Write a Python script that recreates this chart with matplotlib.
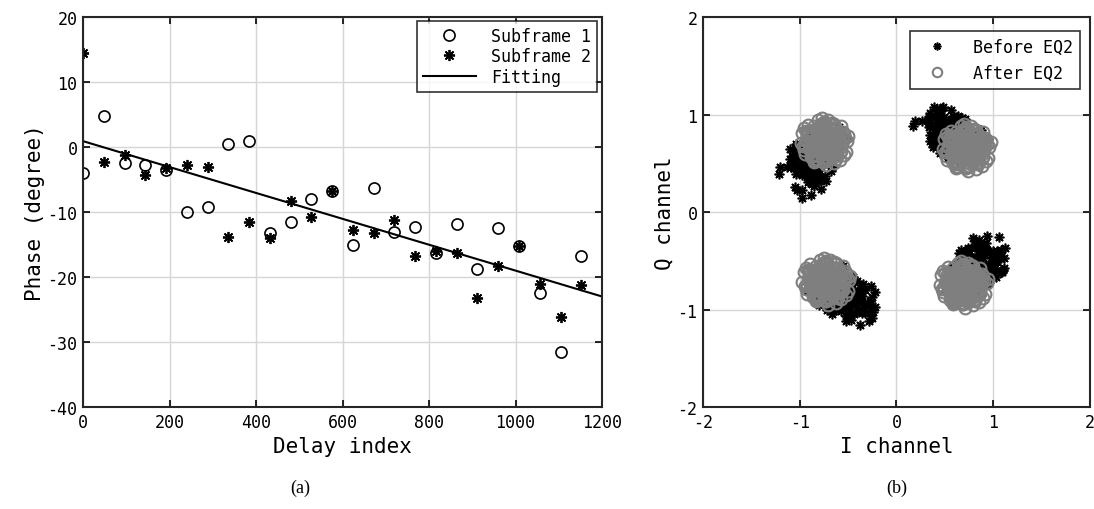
import numpy as np
import matplotlib
matplotlib.use("Agg")
import matplotlib.pyplot as plt

# ---- panel (a): phase vs delay index ----
delay_idx = [0, 48, 96, 144, 192, 240, 288, 336, 384, 432, 480, 528, 576,
             624, 672, 720, 768, 816, 864, 912, 960, 1008, 1056, 1104, 1152]
phase_sub1 = [-4.0, 4.7, -2.5, -2.8, -3.5, -10.0, -9.3, 0.5, 1.0, -13.2, -11.5, -8.0, -6.8,
              -15.0, -6.3, -13.0, -12.3, -16.3, -11.8, -18.7, -12.5, -15.2, -22.5, -31.5, -16.8]
phase_sub2 = [14.5, -2.3, -1.2, -4.3, -3.3, -2.8, -3.0, -13.8, -11.5, -14.0, -8.3, -10.7, -6.8,
              -12.7, -13.2, -11.3, -16.8, -16.0, -16.3, -23.2, -18.3, -15.2, -21.0, -26.2, -21.3]
fit_x = [0, 1200]
fit_y = [0.9, -23.0]

# ---- panel (b): QPSK constellation ----
qpsk_i = [0.72, -0.75, -0.73, 0.69]
qpsk_q = [0.66, 0.72, -0.71, -0.74]
# per-sample noise offsets (units of NOISE_UNIT), shared by every symbol cluster
noise_dx = [0, 5, -4, -7, 3, 10, -10, 2, -3, 12, -12, 8, -8, 14, -15, 6, -6, 16, 1, -1,
            17, -16, 11, -12, 19, -19, 4, -5, 9, -9, 20, -20, 15, -14, 14, -17, 21, -21, 2, -2,
            7, -7, 7, -5, 11, -11, 4, -2, 13, -13, 9, -9, 18, -18, 22, -3, 3, -6, 1, 6,
            2, -2, 6, -6, 9, -9, 4, -4, 12, -12, 0, 0, 7, -7, 10, -10, 3, -3, 13, -13,
            5, -5, 8, -8, 1, -1, 11, -11, 6, -6, 15, -15, 3, -3, 9, -9, 0, 12, -12, 4,
            0, 3, -3, 6, -6, 9, -9, 12, -12, 15, -15, 1, -1, 4, -4, 8, -8, 11, -11, 14,
            -14, 17, -17, 2, -2, 5, -5, 10, -10, 13, -13, 16, -16, 7, -7, 0, 18, -18, 0, 6]
noise_dy = [0, 3, 6, -2, -8, 1, 5, 12, -12, -6, -7, 10, 11, 7, 1, -14, -15, -2, 17, -18,
            9, 10, -15, -14, 3, -4, 19, 19, -19, -18, -9, 8, 14, 15, -16, -11, 1, -1, -21, 21,
            7, -7, -4, 9, 6, -3, -11, 13, -2, 3, 16, -17, -12, 12, 5, 4, -3, 1, 8, -8,
            -5, 5, -1, 1, 3, -3, 9, -9, 4, -4, 10, -10, -11, 11, -7, 7, -14, 14, 0, 0,
            13, -13, -2, 2, -6, 6, -9, 9, 6, -6, -5, 5, 4, -4, 12, -12, 15, 9, -9, -15,
            0, -16, 16, -12, 12, -14, 14, -10, 10, -8, 8, -17, 17, 2, -2, 15, -15, 12, -12, -10,
            10, 3, -3, -7, 7, -4, 4, -6, 6, 6, -6, -1, 1, 17, -17, -18, 7, -7, 18, 0]
# residual phase rotation (deg) of each sample before EQ2
phase_err = [9, 19, 4, 14, 22, 6, 12, 16, 2, 21, 7, 15, 20, 5, 13, 18, 1, 11, 17, 7,
             22, 8, 15, 20, 3, 12, 17, 6, 21, 10, 15, 22, 1, 14, 19, 8, 20, 4, 11, 18,
             6, 15, 21, 9, 2, 13, 22, 5, 16, 11, 20, 7, 15, 21, 2, 18, 8, 12, 22, 6,
             10, 16, 3, 19, 6, 14, 22, 9, 17, 5, 12, 20, 1, 15, 8, 18, 4, 21, 11, 15,
             6, 13, 19, 2, 16, 9, 22, 6, 14, 17, 3, 11, 20, 7, 15, 10, 18, 5, 21, 12,
             4, 15, 8, 23, 13, 1, 18, 10, 21, 6, 15, 24, 3, 12, 17, 7, 20, 14, 5, 22,
             9, 16, 2, 19, 11, 6, 23, 13, 8, 17, 4, 21, 15, 10, 24, 6, 15, 1, 18, 12]
NOISE_UNIT = 0.0115

MONO = "DejaVu Sans Mono"
plt.rcParams["font.family"] = MONO
plt.rcParams["axes.unicode_minus"] = False
TICK_FS = 12
LABEL_FS = 15
GRID = "#d6d6d6"
GRAY = "#7f7f7f"
AST = (8, 2, 0)  # MATLAB-style asterisk


def style_axes(ax):
    ax.grid(True, color=GRID, linewidth=1.0)
    ax.set_axisbelow(True)
    ax.tick_params(direction="in", top=True, right=True, length=5, width=1.2,
                   labelsize=TICK_FS, pad=4)
    for s in ax.spines.values():
        s.set_linewidth(1.5)
        s.set_color("#262626")


fig = plt.figure(figsize=(10.94, 5.10), dpi=100)
ax1 = fig.add_axes([0.0759, 0.20, 0.4744, 0.7647])
ax2 = fig.add_axes([0.6426, 0.20, 0.3537, 0.7647])

# (a)
ax1.plot(delay_idx, phase_sub1, linestyle="none", marker="o", markersize=8,
         markerfacecolor="none", markeredgecolor="black", markeredgewidth=1.2,
         label="Subframe 1")
ax1.plot(delay_idx, phase_sub2, linestyle="none", marker=AST, markersize=8,
         color="black", markeredgewidth=1.3, label="Subframe 2")
ax1.plot(fit_x, fit_y, color="black", linewidth=1.5, label="Fitting")
ax1.set_xlim(0, 1200)
ax1.set_ylim(-40, 20)
ax1.set_xticks(range(0, 1201, 200))
ax1.set_yticks(range(-40, 21, 10))
ax1.set_xlabel("Delay index", fontsize=LABEL_FS, labelpad=4)
ax1.set_ylabel("Phase (degree)", fontsize=LABEL_FS, labelpad=2)
style_axes(ax1)
leg1 = ax1.legend(loc="upper right", bbox_to_anchor=(0.990, 0.990), borderaxespad=0,
                  fontsize=12, frameon=True, fancybox=False, edgecolor="black",
                  handlelength=3.2, labelspacing=0.15, borderpad=0.35, handletextpad=0.9)
leg1.get_frame().set_linewidth(1.2)

# (b)
dx = np.array(noise_dx) * NOISE_UNIT
dy = np.array(noise_dy) * NOISE_UNIT
rot = np.deg2rad(np.array(phase_err))
for k, (ci, cq) in enumerate(zip(qpsk_i, qpsk_q)):
    after = (ci + dx) + 1j * (cq + dy)
    before = after * np.exp(1j * rot)
    ax2.plot(before.real, before.imag, linestyle="none", marker=AST, markersize=7,
             color="black", markeredgewidth=1.2,
             label="Before EQ2" if k == 0 else None)
for k, (ci, cq) in enumerate(zip(qpsk_i, qpsk_q)):
    ax2.plot(ci + dx, cq + dy, linestyle="none", marker="o", markersize=8.5,
             markerfacecolor="none", markeredgecolor=GRAY, markeredgewidth=1.5,
             label="After EQ2" if k == 0 else None)
ax2.set_xlim(-2, 2)
ax2.set_ylim(-2, 2)
ax2.set_xticks([-2, -1, 0, 1, 2])
ax2.set_yticks([-2, -1, 0, 1, 2])
ax2.set_xlabel("I channel", fontsize=LABEL_FS, labelpad=4)
ax2.set_ylabel("Q channel", fontsize=LABEL_FS, labelpad=2)
style_axes(ax2)
leg2 = ax2.legend(loc="upper right", bbox_to_anchor=(0.974, 0.964), borderaxespad=0,
                  fontsize=12, frameon=True, fancybox=False, edgecolor="black",
                  handlelength=2.4, labelspacing=0.5, borderpad=0.4, handletextpad=1.0,
                  markerscale=0.8)
leg2.get_frame().set_linewidth(1.2)

fig.text(0.274, 0.033, "(a)", family="Liberation Serif", fontsize=13, ha="center")
fig.text(0.820, 0.033, "(b)", family="Liberation Serif", fontsize=13, ha="center")

fig.savefig("out.png", dpi=100)
